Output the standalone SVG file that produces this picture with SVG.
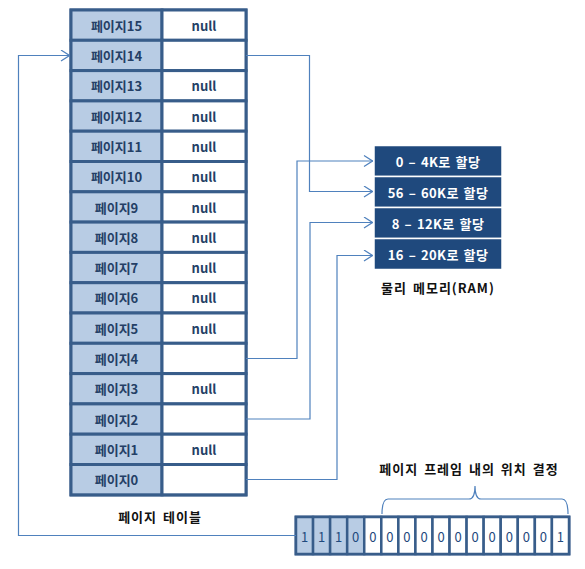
<svg xmlns="http://www.w3.org/2000/svg" width="585" height="569" viewBox="0 0 585 569">
<defs>
<style>
text{font-family:"Malgun Gothic","Noto Sans CJK KR","Noto Sans",sans-serif;text-anchor:middle;dominant-baseline:central}
.lab{fill:#b8cce4;stroke:#385d8a;stroke-width:3}
.val{fill:#fff;stroke:#385d8a;stroke-width:3}
.t{font-size:13px;font-weight:bold;fill:#243f66}
.ram{fill:#1f497d;stroke:#fff;stroke-width:1.5}
.rt{font-size:13px;font-weight:bold;fill:#fff;letter-spacing:0.4px;word-spacing:1.5px}
.cap{font-size:13px;font-weight:bold;fill:#111;letter-spacing:1px;word-spacing:2px}
.conn{fill:none;stroke:#4f81bd;stroke-width:1.2}
.bit{font-size:13px;fill:#1f497d}
</style>
<marker id="arr" viewBox="0 0 10 12" refX="10" refY="6" markerWidth="10" markerHeight="12" markerUnits="userSpaceOnUse" orient="auto">
<path d="M1,0.5 L9.5,6 L1,11.5" fill="none" stroke="#4f81bd" stroke-width="1.2"/>
</marker>
</defs>
<g id="page-table">
<rect x="71" y="10" width="175" height="485" fill="#fff" stroke="#385d8a" stroke-width="3"/>
<g id="p15"><rect class="lab" x="71" y="10" width="91" height="30.3"/><rect class="val" x="162" y="10" width="84" height="30.3"/><text class="t" x="116.5" y="25">페이지15</text><text class="t" x="204" y="25">null</text></g>
<g id="p14"><rect class="lab" x="71" y="40.3" width="91" height="30.3"/><rect class="val" x="162" y="40.3" width="84" height="30.3"/><text class="t" x="116.5" y="55.5">페이지14</text></g>
<g id="p13"><rect class="lab" x="71" y="70.6" width="91" height="30.3"/><rect class="val" x="162" y="70.6" width="84" height="30.3"/><text class="t" x="116.5" y="85.8">페이지13</text><text class="t" x="204" y="85.8">null</text></g>
<g id="p12"><rect class="lab" x="71" y="100.9" width="91" height="30.3"/><rect class="val" x="162" y="100.9" width="84" height="30.3"/><text class="t" x="116.5" y="116.1">페이지12</text><text class="t" x="204" y="116.1">null</text></g>
<g id="p11"><rect class="lab" x="71" y="131.2" width="91" height="30.3"/><rect class="val" x="162" y="131.2" width="84" height="30.3"/><text class="t" x="116.5" y="146.4">페이지11</text><text class="t" x="204" y="146.4">null</text></g>
<g id="p10"><rect class="lab" x="71" y="161.5" width="91" height="30.3"/><rect class="val" x="162" y="161.5" width="84" height="30.3"/><text class="t" x="116.5" y="176.7">페이지10</text><text class="t" x="204" y="176.7">null</text></g>
<g id="p9"><rect class="lab" x="71" y="191.8" width="91" height="30.3"/><rect class="val" x="162" y="191.8" width="84" height="30.3"/><text class="t" x="116.5" y="207">페이지9</text><text class="t" x="204" y="207">null</text></g>
<g id="p8"><rect class="lab" x="71" y="222.1" width="91" height="30.3"/><rect class="val" x="162" y="222.1" width="84" height="30.3"/><text class="t" x="116.5" y="237.3">페이지8</text><text class="t" x="204" y="237.3">null</text></g>
<g id="p7"><rect class="lab" x="71" y="252.4" width="91" height="30.3"/><rect class="val" x="162" y="252.4" width="84" height="30.3"/><text class="t" x="116.5" y="267.6">페이지7</text><text class="t" x="204" y="267.6">null</text></g>
<g id="p6"><rect class="lab" x="71" y="282.7" width="91" height="30.3"/><rect class="val" x="162" y="282.7" width="84" height="30.3"/><text class="t" x="116.5" y="297.9">페이지6</text><text class="t" x="204" y="297.9">null</text></g>
<g id="p5"><rect class="lab" x="71" y="313" width="91" height="30.3"/><rect class="val" x="162" y="313" width="84" height="30.3"/><text class="t" x="116.5" y="328.2">페이지5</text><text class="t" x="204" y="328.2">null</text></g>
<g id="p4"><rect class="lab" x="71" y="343.3" width="91" height="30.3"/><rect class="val" x="162" y="343.3" width="84" height="30.3"/><text class="t" x="116.5" y="358.5">페이지4</text></g>
<g id="p3"><rect class="lab" x="71" y="373.6" width="91" height="30.3"/><rect class="val" x="162" y="373.6" width="84" height="30.3"/><text class="t" x="116.5" y="388.8">페이지3</text><text class="t" x="204" y="388.8">null</text></g>
<g id="p2"><rect class="lab" x="71" y="403.9" width="91" height="30.3"/><rect class="val" x="162" y="403.9" width="84" height="30.3"/><text class="t" x="116.5" y="419.1">페이지2</text></g>
<g id="p1"><rect class="lab" x="71" y="434.2" width="91" height="30.3"/><rect class="val" x="162" y="434.2" width="84" height="30.3"/><text class="t" x="116.5" y="449.4">페이지1</text><text class="t" x="204" y="449.4">null</text></g>
<g id="p0"><rect class="lab" x="71" y="464.5" width="91" height="30.3"/><rect class="val" x="162" y="464.5" width="84" height="30.3"/><text class="t" x="116.5" y="479.7">페이지0</text></g>
<text class="cap" x="160" y="516">페이지 테이블</text>
</g>
<g id="ram">
<g id="r0"><rect class="ram" x="374" y="145.5" width="128" height="31"/><text class="rt" x="438" y="161">0 – 4K로 할당</text></g>
<g id="r1"><rect class="ram" x="374" y="176.5" width="128" height="31"/><text class="rt" x="438" y="192">56 – 60K로 할당</text></g>
<g id="r2"><rect class="ram" x="374" y="207.5" width="128" height="31"/><text class="rt" x="438" y="223">8 – 12K로 할당</text></g>
<g id="r3"><rect class="ram" x="374" y="238.5" width="128" height="31"/><text class="rt" x="438" y="254">16 – 20K로 할당</text></g>
<text class="cap" x="438" y="287">물리 메모리(RAM)</text>
</g>
<g id="address">
<rect x="296" y="517" width="273" height="37" fill="#fff" stroke="#385d8a" stroke-width="3"/>
<g fill="#b8cce4" stroke="#385d8a" stroke-width="2.5">
<rect x="296" y="517" width="17.06" height="37"/><rect x="313.06" y="517" width="17.06" height="37"/><rect x="330.12" y="517" width="17.06" height="37"/><rect x="347.18" y="517" width="17.06" height="37"/>
</g>
<g fill="#fff" stroke="#385d8a" stroke-width="2.5">
<rect x="364.24" y="517" width="17.06" height="37"/><rect x="381.3" y="517" width="17.06" height="37"/><rect x="398.36" y="517" width="17.06" height="37"/><rect x="415.42" y="517" width="17.06" height="37"/><rect x="432.48" y="517" width="17.06" height="37"/><rect x="449.54" y="517" width="17.06" height="37"/><rect x="466.6" y="517" width="17.06" height="37"/><rect x="483.66" y="517" width="17.06" height="37"/><rect x="500.72" y="517" width="17.06" height="37"/><rect x="517.78" y="517" width="17.06" height="37"/><rect x="534.84" y="517" width="17.06" height="37"/><rect x="551.9" y="517" width="17.1" height="37"/>
</g>
<g>
<text class="bit" x="304.5" y="536">1</text><text class="bit" x="321.6" y="536">1</text><text class="bit" x="338.7" y="536">1</text><text class="bit" x="355.7" y="536">0</text><text class="bit" x="372.8" y="536">0</text><text class="bit" x="389.8" y="536">0</text><text class="bit" x="406.9" y="536">0</text><text class="bit" x="424" y="536">0</text><text class="bit" x="441" y="536">0</text><text class="bit" x="458.1" y="536">0</text><text class="bit" x="475.1" y="536">0</text><text class="bit" x="492.2" y="536">0</text><text class="bit" x="509.3" y="536">0</text><text class="bit" x="526.3" y="536">0</text><text class="bit" x="543.4" y="536">0</text><text class="bit" x="560.4" y="536">1</text>
</g>
<path d="M382,514 Q382,499 388,499 L469,499 Q475,499 475,486 Q475,499 481,499 L562,499 Q568,499 568,514" fill="none" stroke="#4f81bd" stroke-width="1.2"/>
<text class="cap" x="469" y="468">페이지 프레임 내의 위치 결정</text>
</g>
<g id="connectors">
<path class="conn" d="M246,55.5 H309.5 V191.5 H373" marker-end="url(#arr)"/>
<path class="conn" d="M246,358.5 H297 V161 H373" marker-end="url(#arr)"/>
<path class="conn" d="M246,419 H310 V222.5 H373" marker-end="url(#arr)"/>
<path class="conn" d="M246,479.5 H337 V255.5 H373" marker-end="url(#arr)"/>
<path class="conn" d="M296,535.5 H18.5 V55.5 H70" stroke="#7ba0d0" stroke-width="1.5" marker-end="url(#arr)"/>
</g>
</svg>
